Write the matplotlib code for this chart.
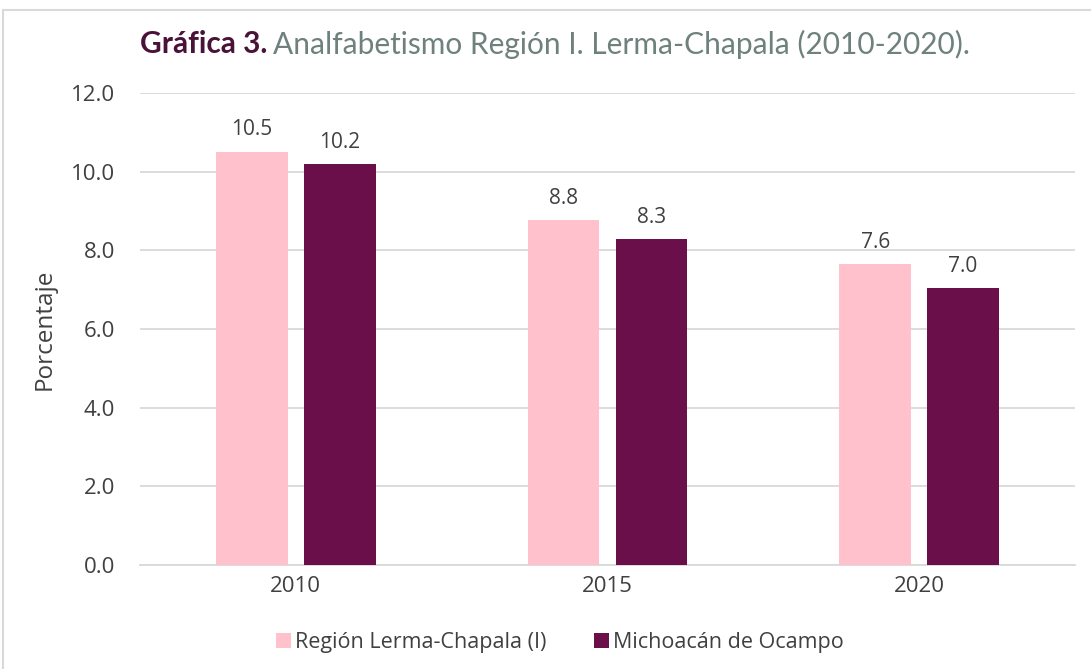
import matplotlib
matplotlib.use("Agg")
import matplotlib.pyplot as plt
from matplotlib.patches import Rectangle
import numpy as np

# data
years = ["2010", "2015", "2020"]
region = [10.51, 8.77, 7.64]
michoacan = [10.20, 8.29, 7.04]
series_names = ["Región Lerma-Chapala (I)", "Michoacán de Ocampo"]
yticks = [0, 2, 4, 6, 8, 10, 12]

pink = "#FFC1CC"
purple = "#6A0F49"
text_col = "#404040"

plt.rcParams["font.family"] = ["Open Sans", "DejaVu Sans"]

fig = plt.figure(figsize=(10.91, 6.69), dpi=100)
ax = fig.add_axes([140 / 1091, 1 - 565 / 669, 935 / 1091, 472 / 669])

x = np.arange(len(years))
w = 0.23
off = 0.141
b1 = ax.bar(x - off, region, w, color=pink, label=series_names[0], zorder=3)
b2 = ax.bar(x + off, michoacan, w, color=purple, label=series_names[1], zorder=3)

for bars in (b1, b2):
    for r in bars:
        ax.annotate(f"{r.get_height():.1f}", (r.get_x() + r.get_width() / 2, r.get_height()),
                    xytext=(0, 8), textcoords="offset points", ha="center", va="bottom",
                    fontsize=15, color=text_col)

ax.set_xlim(-0.5, 2.5)
ax.set_ylim(0, 12)
ax.set_yticks(yticks)
ax.set_yticklabels([f"{v:.1f}" for v in yticks])
ax.set_xticks(x)
ax.set_xticklabels(years)
ax.tick_params(axis="both", length=0, labelsize=16, colors=text_col)
ax.tick_params(axis="y", pad=18)
ax.tick_params(axis="x", pad=8)
ax.grid(axis="y", color="#D9D9D9", linewidth=1.3, zorder=0)
for s in ["top", "right", "left"]:
    ax.spines[s].set_visible(False)
ax.spines["bottom"].set_color("#D9D9D9")
ax.spines["bottom"].set_linewidth(1.3)
ax.set_ylabel("Porcentaje", fontsize=17.5, color=text_col, labelpad=10)

ax.legend(loc="upper center", bbox_to_anchor=(0.449, -0.1), ncol=2, frameon=False,
          fontsize=15.5, handlelength=0.7, handleheight=0.7, handletextpad=0.2,
          columnspacing=2.2, labelcolor=text_col)

# title in two colours
title_font = ["Lato", "DejaVu Sans"]
t1 = fig.text(140 / 1091, 1 - 44 / 669, "Gráfica 3.", fontsize=21.5, fontweight="bold",
              color="#4A1238", family=title_font, va="center", ha="left")
fig.canvas.draw()
bb = t1.get_window_extent()
fig.text(bb.x1 / fig.bbox.width + 0.005, 1 - 44 / 669,
         "Analfabetismo Región I. Lerma-Chapala (2010-2020).", fontsize=21.5,
         color="#6E817D", family=title_font, va="center", ha="left")

# light frame around the chart
fig.patches.append(Rectangle((3 / 1091, -0.05), 1.1, 1 - 10 / 669 + 0.05,
                             transform=fig.transFigure, fill=False,
                             edgecolor="#D9D9D9", linewidth=1.5))

fig.savefig("out.png", dpi=100)
